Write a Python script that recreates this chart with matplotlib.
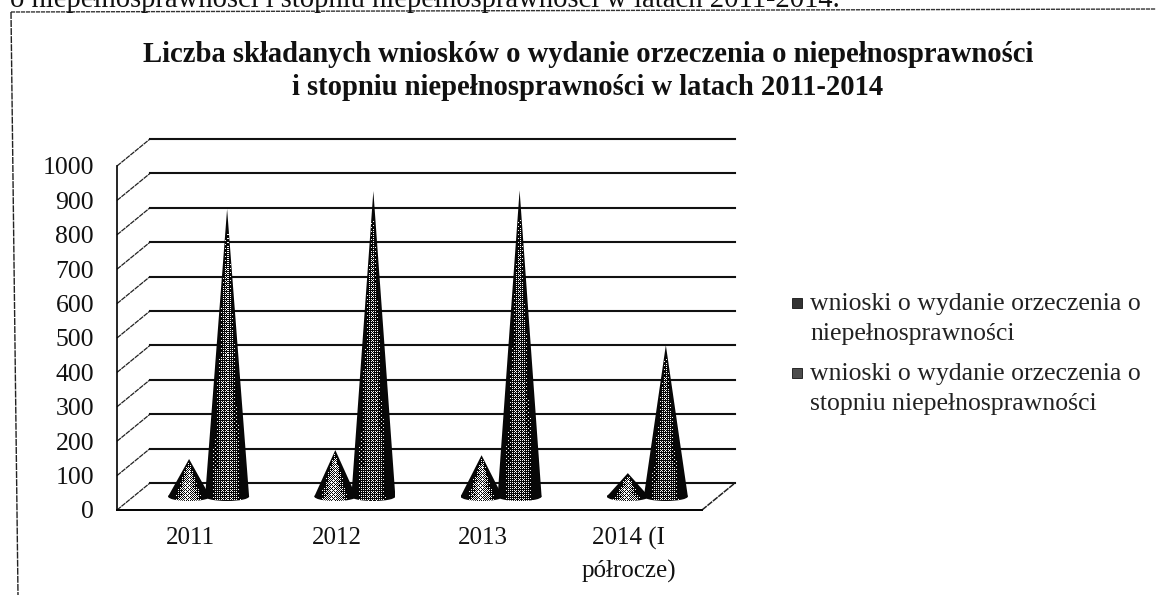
import numpy as np
import matplotlib
matplotlib.use("Agg")
import matplotlib.pyplot as plt
from matplotlib.patches import Ellipse, Polygon

categories = ["2011", "2012", "2013", "2014 (I\npółrocze)"]
first_series = [109, 135, 120, 68]
second_series = [836, 888, 890, 440]
first_label = "wnioski o wydanie orzeczenia o\nniepełnosprawności"
second_label = "wnioski o wydanie orzeczenia o\nstopniu niepełnosprawności"
y_ticks = list(range(0, 1001, 100))
title = "Liczba składanych wniosków o wydanie orzeczenia o niepełnosprawności\ni stopniu niepełnosprawności w latach 2011-2014"
page_text = "o niepełnosprawności i stopniu niepełnosprawności w latach 2011-2014."

W, H = 1156, 595
plt.rcParams["font.family"] = ["Liberation Serif", "DejaVu Serif"]
fig = plt.figure(figsize=(W / 100, H / 100), dpi=100)

# front plane of the 3-D box: x 117..702 px, y 510 (0) .. 166 (1000) px
L, R, B, T = 117, 702, 510, 166
ax = fig.add_axes([L / W, 1 - B / H, (R - L) / W, (B - T) / H])
ax.patch.set_alpha(0)
for s in ax.spines.values():
    s.set_visible(False)
ax.spines["left"].set_visible(True)
ax.spines["bottom"].set_visible(True)
ax.spines["left"].set_linewidth(1.2)
ax.spines["bottom"].set_linewidth(1.4)

px_x = 4 / (R - L)
px_y = 1000 / (B - T)
DX, DY = 33 * px_x, 27 * px_y   # depth of the 3-D box, data units

# gridlines with depth ticks
for v in y_ticks:
    ax.plot([0, DX], [v, v + DY], color="#222222", lw=0.9, ls=(0, (4, 0.6)), clip_on=False, zorder=1)
    ax.plot([DX, 4 + DX], [v + DY, v + DY], color="#111111", lw=1.5, clip_on=False, zorder=1)
ax.plot([4, 4 + DX], [0, DY], color="#222222", lw=1.1, ls=(0, (4, 0.6)), clip_on=False, zorder=1)

BAYER = np.array([[0, 8, 2, 10], [12, 4, 14, 6], [3, 11, 1, 9], [15, 7, 13, 5]]) / 16 + 1 / 32


def cone(xc, val, half_px, peak, z):
    """Cone on the floor, shaded as a scanned halftone."""
    cx = xc + DX * 0.5
    base = DY * 0.5
    hw = half_px * px_x
    eh = 9 * px_y
    tri = Polygon([(cx - hw, base), (cx + hw, base), (cx, base + val)], closed=True, fc="none", ec="none")
    ell = Ellipse((cx, base), 2 * hw, eh, fc="none", ec="none")
    ax.add_patch(tri)
    ax.add_patch(ell)
    nx = int(round(2 * half_px))
    ny = int(round((val + eh / 2) / px_y))
    xs = np.linspace(-1, 1, nx)
    ys = np.linspace(1, 0, ny)                     # 1 at apex, 0 at the bottom
    X, Y = np.meshgrid(xs, ys)
    local = np.maximum(1 - Y, 0.02)
    u = X / local                                   # -1..1 across the cone at each height
    shade = peak * np.clip(1 - (np.abs(u + 0.05) / 0.75) ** 2, 0, 1) * np.clip((1 - Y) / 0.25, 0, 1)
    thr = np.tile(BAYER, (ny // 4 + 1, nx // 4 + 1))[:ny, :nx]
    img = (shade > thr).astype(float) * 0.95 + 0.03
    rgb = np.dstack([img, img, img])
    for clip in (tri, ell):
        im = ax.imshow(rgb, extent=[cx - hw, cx + hw, base - eh / 2, base + val],
                       aspect="auto", zorder=z, interpolation="nearest")
        im.set_clip_path(clip)


for i, (a, b) in enumerate(zip(first_series, second_series)):
    cone(i + 0.38, a, 21, 0.6, 3)
    cone(i + 0.64, b, 22, 0.34, 4)

ax.set_xlim(0, 4)
ax.set_ylim(0, 1000)
ax.set_xticks([i + 0.5 for i in range(4)])
ax.set_xticklabels(categories, fontsize=18, color="#111111", linespacing=1.52)
ax.tick_params(axis="x", length=0, pad=12.5)
ax.set_yticks(y_ticks)
ax.set_yticklabels([str(v) for v in y_ticks], fontsize=18.5, color="#111111")
ax.tick_params(axis="y", length=0, pad=16.5)

fig.text(588 / W, 1 - 71 / H, title, ha="center", va="center", fontsize=20.6,
         fontweight="bold", color="#111111", linespacing=1.27)
fig.text(10 / W, 1 - 7 / H, page_text, ha="left", va="baseline", fontsize=20.6, color="#111111")

# scanned frame and legend
frame = fig.add_axes([0, 0, 1, 1], zorder=-1)
frame.set_xlim(0, W)
frame.set_ylim(H, 0)
frame.axis("off")
frame.plot([11, W], [12, 9], color="#333333", lw=1.0, ls=(0, (3, 0.6)))
frame.plot([11, 18], [12, H], color="#222222", lw=1.0, ls=(0, (5, 0.8)))

for y0, label, col in [(303, first_label, "#333333"), (373, second_label, "#4d4d4d")]:
    frame.plot([797], [y0], marker="s", ms=7, color=col, mec="#111111", mew=0.6)
    frame.text(810, y0 + 16, label, fontsize=18.5, va="center", ha="left", color="#222222", linespacing=1.45)

fig.savefig("out.png", dpi=100)
